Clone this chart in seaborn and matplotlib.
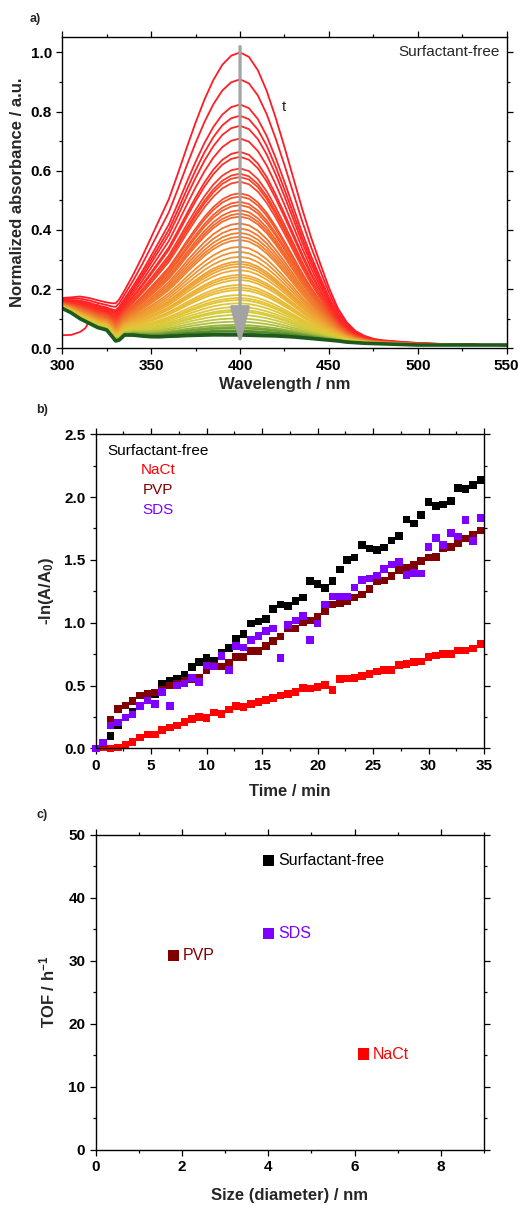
import numpy as np
import pandas as pd
import matplotlib
matplotlib.use("Agg")
import matplotlib.pyplot as plt
import seaborn as sns
from matplotlib.ticker import MultipleLocator
from matplotlib.colors import to_rgb

# ---------------- data: panel a (UV-vis spectra) ----------------
wavelength = [300, 305, 310, 315, 320, 325, 328, 330, 332, 335,
              340, 345, 350, 355, 360, 365, 370, 375, 380, 385, 390, 395, 400,
              405, 410, 415, 420, 425, 430, 435, 440, 445, 450, 455, 460, 465, 470,
              475, 480, 490, 500, 520, 550]
# first (t = 0) spectrum, normalized
spectrum_first = [0.170, 0.172, 0.175, 0.170, 0.162, 0.155, 0.152, 0.152, 0.165, 0.195,
                  0.250, 0.310, 0.375, 0.440, 0.505, 0.590, 0.678, 0.763, 0.841, 0.907,
                  0.958, 0.989, 1.000,
                  0.985, 0.940, 0.870, 0.780, 0.680, 0.575, 0.470, 0.374, 0.288, 0.205,
                  0.135, 0.088, 0.058, 0.042, 0.032, 0.027, 0.022, 0.018, 0.013, 0.010]
# last spectrum
spectrum_last = [0.135, 0.120, 0.100, 0.085, 0.070, 0.062, 0.040, 0.025, 0.028, 0.045,
                 0.045, 0.042, 0.040, 0.040, 0.042, 0.043, 0.045, 0.046, 0.047, 0.048,
                 0.048, 0.048, 0.048,
                 0.047, 0.046, 0.045, 0.044, 0.042, 0.040, 0.037, 0.034, 0.031, 0.028,
                 0.025, 0.021, 0.019, 0.017, 0.016, 0.015, 0.013, 0.011, 0.011, 0.011]
# peak absorbance (at 400 nm) of each successive spectrum
peak_values = [1.000, 0.909, 0.824, 0.786, 0.752, 0.709, 0.664, 0.647, 0.608, 0.590,
               0.579, 0.563, 0.524, 0.513, 0.495, 0.484, 0.467, 0.455, 0.445, 0.422,
               0.405, 0.390, 0.377, 0.366, 0.343, 0.326, 0.309, 0.293, 0.285, 0.276,
               0.264, 0.248, 0.240, 0.231, 0.214, 0.205, 0.197, 0.180, 0.170, 0.163,
               0.152, 0.140, 0.130, 0.124, 0.113, 0.101, 0.090, 0.079, 0.072, 0.067,
               0.060, 0.056, 0.050, 0.045]
# one stray red trace at the short-wavelength end
stray_wl = [300, 305, 310, 313, 316, 320]
stray_abs = [0.044, 0.045, 0.055, 0.068, 0.100, 0.150]

# ---------------- data: panel b (kinetics) ----------------
time_min = [0, 0.67, 1.33, 2.0, 2.67, 3.33, 4.0, 4.67, 5.33, 6.0, 6.67, 7.33, 8.0, 8.67,
            9.33, 10.0, 10.67, 11.33, 12.0, 12.67, 13.33, 14.0, 14.67, 15.33, 16.0, 16.67,
            17.33, 18.0, 18.67, 19.33, 20.0, 20.67, 21.33, 22.0, 22.67, 23.33, 24.0, 24.67,
            25.33, 26.0, 26.67, 27.33, 28.0, 28.67, 29.33, 30.0, 30.67, 31.33, 32.0, 32.67,
            33.33, 34.0, 34.67]
ln_surfactant_free = [0.0, 0.03, 0.10, 0.185, 0.245, 0.29, 0.34, 0.39, 0.43, 0.51, 0.535,
                      0.55, 0.584, 0.647, 0.685, 0.72, 0.70, 0.76, 0.80, 0.875, 0.91, 0.995,
                      1.01, 1.03, 1.11, 1.145, 1.135, 1.175, 1.20, 1.33, 1.31, 1.275, 1.33,
                      1.425, 1.50, 1.52, 1.62, 1.59, 1.58, 1.60, 1.655, 1.69, 1.82, 1.79,
                      1.855, 1.96, 1.93, 1.94, 1.97, 2.07, 2.065, 2.095, 2.135]
ln_nact = [0.0, 0.01, 0.0, 0.005, 0.03, 0.05, 0.085, 0.11, 0.11, 0.145, 0.165, 0.18, 0.21,
           0.235, 0.25, 0.24, 0.285, 0.275, 0.31, 0.335, 0.33, 0.355, 0.37, 0.385, 0.40,
           0.42, 0.43, 0.45, 0.48, 0.475, 0.49, 0.505, 0.465, 0.55, 0.555, 0.56, 0.575,
           0.59, 0.61, 0.625, 0.625, 0.665, 0.67, 0.685, 0.69, 0.725, 0.74, 0.75, 0.75,
           0.78, 0.78, 0.795, 0.83]
ln_pvp = [0.0, 0.04, 0.225, 0.313, 0.342, 0.377, 0.42, 0.43, 0.445, 0.465, 0.50, 0.51,
          0.54, 0.55, 0.565, 0.62, 0.655, 0.65, 0.68, 0.725, 0.725, 0.775, 0.775, 0.815,
          0.855, 0.89, 0.955, 0.953, 1.005, 1.016, 1.043, 1.093, 1.146, 1.154, 1.175, 1.20,
          1.225, 1.27, 1.33, 1.335, 1.37, 1.42, 1.435, 1.46, 1.49, 1.52, 1.525, 1.595,
          1.605, 1.635, 1.67, 1.70, 1.735]
ln_sds = [0.0, 0.045, 0.18, 0.205, 0.245, 0.27, 0.337, 0.38, 0.355, 0.45, 0.337, 0.50,
          0.517, 0.56, 0.53, 0.66, 0.65, 0.735, 0.623, 0.815, 0.804, 0.862, 0.894, 0.934,
          0.955, 0.72, 0.98, 1.016, 1.053, 0.86, 0.995, 1.146, 1.207, 1.207, 1.21, 1.279,
          1.34, 1.353, 1.375, 1.428, 1.462, 1.483, 1.382, 1.396, 1.393, 1.605, 1.672, 1.62,
          1.712, 1.685, 1.818, 1.65, 1.833]

# ---------------- data: panel c (TOF vs size) ----------------
samples = ["Surfactant-free", "NaCt", "PVP", "SDS"]
size_nm = [4.0, 6.2, 1.8, 4.0]
tof_per_h = [46.0, 15.2, 30.8, 34.3]

series_colors = {"Surfactant-free": "#000000", "NaCt": "#ff0000",
                 "PVP": "#800000", "SDS": "#8000ff"}

# ---------------- style ----------------
sns.set_style("ticks")
plt.rcParams["font.family"] = ["Liberation Sans", "DejaVu Sans"]
plt.rcParams["mathtext.fontset"] = "custom"
plt.rcParams["mathtext.rm"] = "Liberation Sans:bold"
plt.rcParams["mathtext.it"] = "Liberation Sans:bold"
plt.rcParams["mathtext.bf"] = "Liberation Sans:bold"
plt.rcParams["axes.linewidth"] = 1.0

fig = plt.figure(figsize=(5.19, 12.05), dpi=100)
axa = fig.add_axes([0.120, 0.711, 0.8563, 0.2585])
axb = fig.add_axes([0.1844, 0.379, 0.7482, 0.2606])
axc = fig.add_axes([0.1844, 0.0459, 0.7482, 0.2612])


def style_axis(ax, xmaj, xmin, ymaj, ymin, fmt_y=None):
    ax.xaxis.set_major_locator(MultipleLocator(xmaj))
    ax.xaxis.set_minor_locator(MultipleLocator(xmin))
    ax.yaxis.set_major_locator(MultipleLocator(ymaj))
    ax.yaxis.set_minor_locator(MultipleLocator(ymin))
    ax.tick_params(which="both", direction="out", top=True, right=True,
                   labeltop=False, labelright=False, width=0.9, colors="black",
                   labelsize=11)
    ax.tick_params(which="major", length=4)
    ax.tick_params(which="minor", length=2.5)
    for sp in ax.spines.values():
        sp.set_visible(True)
        sp.set_color("black")
        sp.set_linewidth(1.0)
    if fmt_y:
        ax.yaxis.set_major_formatter(matplotlib.ticker.FormatStrFormatter(fmt_y))
    for lab in ax.get_xticklabels() + ax.get_yticklabels():
        lab.set_fontweight("bold")


# ---------------- panel a ----------------
stop_vals = [0.045, 0.050, 0.065, 0.085, 0.12, 0.18, 0.26, 0.35, 0.45, 0.55, 0.66, 1.00]
stop_cols = ["#1e5a1e", "#3a7a2a", "#6e9e32", "#a8bc3c", "#d4cc3c", "#e6c236",
             "#eeaa34", "#f08a30", "#f26a2c", "#f74a2a", "#ff2a26", "#ff1a26"]
stop_rgb = np.array([to_rgb(c) for c in stop_cols])


def peak_color(v):
    return tuple(np.interp(v, stop_vals, stop_rgb[:, k]) for k in range(3))


first = np.array(spectrum_first)
last = np.array(spectrum_last)
pk_first, pk_last = first[wavelength.index(400)], last[wavelength.index(400)]

sns.lineplot(x=stray_wl, y=stray_abs, color="#ff1a26", lw=1.3, ax=axa)
n = len(peak_values)
for i, pk in enumerate(peak_values):
    frac = (pk - pk_last) / (pk_first - pk_last)
    curve = last + frac * (first - last)
    lw = 2.6 if i == n - 1 else 1.3
    sns.lineplot(x=wavelength, y=curve, color=peak_color(pk), lw=lw, ax=axa)

axa.annotate("", xy=(400, 0.011), xytext=(400, 1.02),
             arrowprops=dict(arrowstyle="-|>,head_length=1.15,head_width=0.3",
                             color="#a3a3a3", lw=2.3, mutation_scale=20,
                             shrinkA=0, shrinkB=0))
axa.text(424.7, 0.816, "t", fontsize=11, ha="center", va="center")
axa.text(546.3, 1.0, "Surfactant-free", fontsize=11, ha="right", va="center")
axa.set_xlim(300, 550)
axa.set_ylim(0, 1.053)
axa.set_xlabel("Wavelength / nm", fontsize=12, fontweight="bold", labelpad=3)
axa.set_ylabel("Normalized absorbance / a.u.", fontsize=12, fontweight="bold", labelpad=4)
style_axis(axa, 50, 25, 0.2, 0.1, "%.1f")

# ---------------- panel b ----------------
kin = pd.concat([
    pd.DataFrame({"t": time_min, "v": ln_surfactant_free, "s": "Surfactant-free"}),
    pd.DataFrame({"t": time_min, "v": ln_nact, "s": "NaCt"}),
    pd.DataFrame({"t": time_min, "v": ln_pvp, "s": "PVP"}),
    pd.DataFrame({"t": time_min, "v": ln_sds, "s": "SDS"}),
], ignore_index=True)
sns.scatterplot(data=kin, x="t", y="v", hue="s", palette=series_colors, marker="s",
                s=30, linewidth=0, legend=False, clip_on=False, ax=axb)
for j, name in enumerate(samples):
    axb.text(5.65, 2.37 - 0.157 * j, name, color=series_colors[name], fontsize=11,
             ha="center", va="center")
axb.set_xlim(0, 35)
axb.set_ylim(0, 2.5)
axb.set_xlabel("Time / min", fontsize=12, fontweight="bold", labelpad=8)
axb.set_ylabel(r"-ln(A/A$_0$)", fontsize=12, fontweight="bold", labelpad=6)
style_axis(axb, 5, 2.5, 0.5, 0.25, "%.1f")

# ---------------- panel c ----------------
tof = pd.DataFrame({"size": size_nm, "tof": tof_per_h, "s": samples})
sns.scatterplot(data=tof, x="size", y="tof", hue="s", palette=series_colors, marker="s",
                s=64, linewidth=0, legend=False, ax=axc)
for name, xv, yv in zip(samples, size_nm, tof_per_h):
    axc.annotate(name, (xv, yv), xytext=(7, 0), textcoords="offset points",
                 color=series_colors[name], fontsize=11.5, ha="left", va="center")
axc.set_xlim(0, 9)
axc.set_ylim(0, 50)
axc.set_xlabel("Size (diameter) / nm", fontsize=12, fontweight="bold", labelpad=10)
axc.set_ylabel(r"TOF / h$^{\mathbf{-1}}$", fontsize=12, fontweight="bold", labelpad=8)
style_axis(axc, 2, 1, 10, 5)

# panel letters
fig.text(35 / 519, 1 - 19 / 1205, "a)", fontsize=9, fontweight="bold", ha="center", va="center")
fig.text(42 / 519, 1 - 410 / 1205, "b)", fontsize=9, fontweight="bold", ha="center", va="center")
fig.text(42 / 519, 1 - 815 / 1205, "c)", fontsize=9, fontweight="bold", ha="center", va="center")

fig.savefig("out.png", dpi=100)
